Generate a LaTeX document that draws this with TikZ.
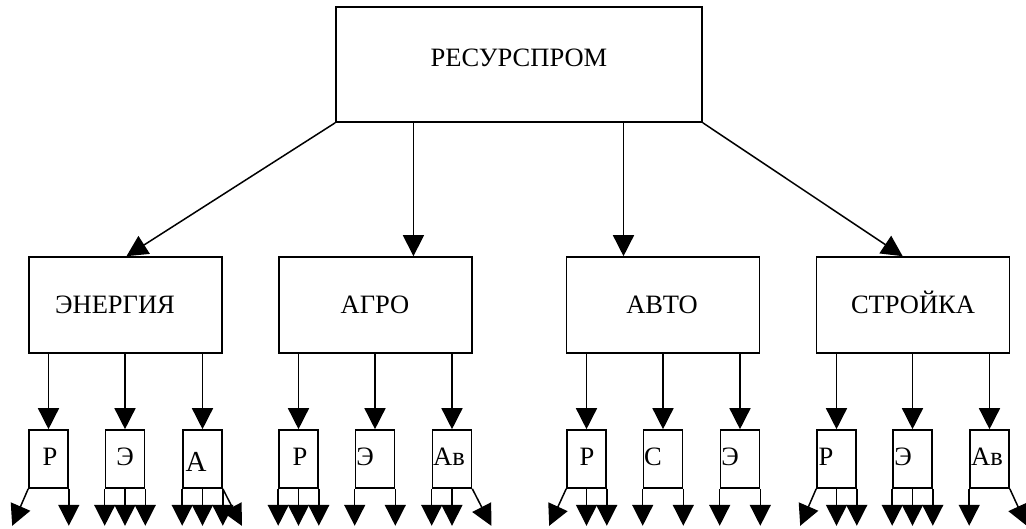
\documentclass[tikz,border=0pt]{standalone}
\usepackage{fontspec}
\setmainfont{Liberation Serif}
\usetikzlibrary{arrows.meta,calc}
\begin{document}
\begin{tikzpicture}[x=1pt,y=-1pt,
  box/.style={draw,line width=1.6pt,rectangle,inner sep=0pt},
  bigbox/.style={box,minimum width=366pt,minimum height=115pt},
  midbox/.style={box,minimum width=193pt,minimum height=96pt},
  smallbox/.style={box,minimum width=39pt,minimum height=58pt},
  txt/.style={anchor=base,inner sep=0pt,font=\fontsize{26.5}{30}\selectfont},
  arr/.style={line width=1.5pt,-{Triangle[length=21pt,width=21pt]}}]
\useasboundingbox (0,0) rectangle (1026,529);
% top
\node[bigbox] (top) at (519,64.5) {};
\node[txt] (ttop) at (519,67) {РЕСУРСПРОМ};
% middle
\node[midbox] (en) at (125.5,305) {};
\node[midbox] (ag) at (375.5,305) {};
\node[midbox] (av) at (663,305) {};
\node[midbox] (st) at (913,305) {};
\node[txt] (ten) at (115,314) {ЭНЕРГИЯ};
\node[txt] (tag) at (375,314) {АГРО};
\node[txt] (tav) at (662,314) {АВТО};
\node[txt] (tst) at (913,314) {СТРОЙКА};
% small boxes
\node[smallbox] (e1) at (48.5,459) {};
\node[smallbox] (e2) at (125,459) {};
\node[smallbox] (e3) at (202.5,459) {};
\node[smallbox] (g1) at (298.5,459) {};
\node[smallbox] (g2) at (375,459) {};
\node[smallbox] (g3) at (452,459) {};
\node[smallbox] (a1) at (586.5,459) {};
\node[smallbox] (a2) at (663,459) {};
\node[smallbox] (a3) at (740,459) {};
\node[smallbox] (s1) at (836.5,459) {};
\node[smallbox] (s2) at (912.5,459) {};
\node[smallbox] (s3) at (989.5,459) {};
\node[txt] (te1) at (50,465) {Р};
\node[txt] (te2) at (125,465) {Э};
\node[txt,font=\fontsize{29}{33}\selectfont] (te3) at (196,471) {А};
\node[txt] (tg1) at (300,465) {Р};
\node[txt] (tg2) at (365,465) {Э};
\node[txt] (tg3) at (449,465) {Ав};
\node[txt] (ta1) at (587,465) {Р};
\node[txt] (ta2) at (653,465) {С};
\node[txt] (ta3) at (730,465) {Э};
\node[txt] (ts1) at (826,465) {Р};
\node[txt] (ts2) at (903,465) {Э};
\node[txt] (ts3) at (987,465) {Ав};
% top to middle
\draw[arr] (top.south west) -- ($(en.north west)!0.505!(en.north east)$);
\draw[arr] (top.south -| {$(ag.north west)!0.695!(ag.north east)$}) -- ($(ag.north west)!0.695!(ag.north east)$);
\draw[arr] (top.south -| {$(av.north west)!0.297!(av.north east)$}) -- ($(av.north west)!0.297!(av.north east)$);
\draw[arr] (top.south east) -- ($(st.north west)!0.447!(st.north east)$);
% middle to small
\foreach \m/\s in {en/e1,en/e2,en/e3,ag/g1,ag/g2,ag/g3,av/a1,av/a2,av/a3,st/s1,st/s2,st/s3}
  \draw[arr] (\m.south -| \s.north) -- (\s.north);
% bottom arrows
\foreach \b/\a in {e1/south east,
  e2/south west,e2/south,e2/south east,
  e3/south west,e3/south,e3/south east,
  g1/south west,g1/south,g1/south east,
  g2/south west,g2/south east,
  g3/south west,g3/south,
  a1/south,a1/south east,
  a2/south west,a2/south east,
  a3/south west,a3/south east,
  s1/south,s1/south east,
  s2/south west,s2/south,s2/south east,
  s3/south west}
  \draw[arr] (\b.\a) -- ++(0,37);
\draw[arr] (e1.south west) -- ++(-16,37);
\draw[arr] (e3.south east) -- ++(19,37);
\draw[arr] (g3.south east) -- ++(19,37);
\draw[arr] (a1.south west) -- ++(-17,37);
\draw[arr] (s1.south west) -- ++(-16,37);
\draw[arr] (s3.south east) -- ++(17,37);
\end{tikzpicture}
\end{document}
